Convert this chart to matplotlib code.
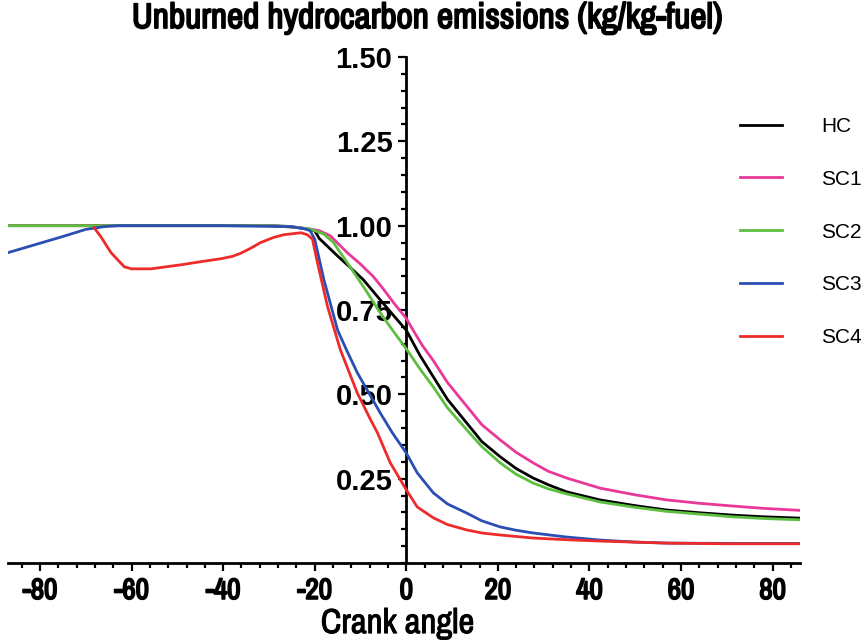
import matplotlib
matplotlib.use("Agg")
import matplotlib.pyplot as plt
import matplotlib.patheffects as pe
from matplotlib.ticker import MultipleLocator, FixedLocator

plt.rcParams["axes.unicode_minus"] = False

# --- data ---
hc_x = [-87, -40, -30, -26, -23, -21, -20, -19, -15, -12, -9.4, -6, -3.5, 0, 3, 5.9, 9,
        13.2, 16.5, 20.5, 24, 27.7, 31, 35, 42.3, 50, 56.9, 64, 71.2, 78, 86]
hc_y = [1.0, 1.0, 1.0, 0.998, 0.993, 0.988, 0.985, 0.962, 0.91, 0.873, 0.84, 0.785, 0.745,
        0.69, 0.615, 0.552, 0.485, 0.415, 0.36, 0.315, 0.28, 0.252, 0.232, 0.211, 0.187,
        0.17, 0.157, 0.149, 0.142, 0.137, 0.133]

sc1_x = [-87, -30, -24, -21, -19, -16.6, -12.9, -10, -7.2, -5, -2.8, 0, 1.5, 3.5, 5.9, 9,
         13.2, 16.5, 20.5, 24, 27.7, 31, 35, 42.3, 50, 56.9, 64, 71.2, 78, 86]
sc1_y = [1.0, 1.0, 0.995, 0.99, 0.985, 0.97, 0.92, 0.886, 0.849, 0.812, 0.772, 0.725, 0.69,
         0.645, 0.60, 0.535, 0.465, 0.41, 0.365, 0.328, 0.297, 0.272, 0.252, 0.222, 0.202,
         0.187, 0.177, 0.169, 0.162, 0.156]

sc2_x = [-87, -30, -24, -21, -18, -15.9, -12.9, -9.4, -5.7, -3, 0, 3, 5.9, 9, 13.2, 16.5,
         20.5, 24, 27.7, 31, 35, 42.3, 50, 56.9, 64, 71.2, 78, 86]
sc2_y = [1.0, 1.0, 0.995, 0.99, 0.975, 0.95, 0.89, 0.82, 0.742, 0.69, 0.635, 0.575, 0.522,
         0.46, 0.395, 0.345, 0.297, 0.263, 0.237, 0.22, 0.205, 0.181, 0.165, 0.153, 0.145,
         0.137, 0.132, 0.128]

sc3_x = [-87, -80, -75, -70, -66, -63, -40, -25, -22, -21, -20, -18, -15, -13, -10.7, -8,
         -5.7, -3, 0, 2.4, 5.9, 9, 13.2, 16.5, 20.5, 24, 27.7, 35, 42.3, 50, 56.9, 70, 86]
sc3_y = [0.92, 0.948, 0.968, 0.989, 0.997, 1.0, 1.0, 0.997, 0.99, 0.985, 0.96, 0.84, 0.69,
         0.63, 0.564, 0.5, 0.445, 0.385, 0.326, 0.267, 0.208, 0.175, 0.148, 0.125, 0.107,
         0.097, 0.089, 0.077, 0.068, 0.062, 0.059, 0.058, 0.058]

sc4_x = [-68.2, -66.7, -64.5, -61.6, -60, -55.8, -49.2, -45, -42, -40.5, -38, -36.2, -34,
         -31.8, -29, -26.8, -23, -21.6, -20.5, -19.4, -17.2, -14.4, -10.7, -8, -6.3, -3.5,
         0, 2.4, 5.9, 9, 13.2, 16.5, 20.5, 27.7, 35, 42.3, 56.9, 70, 86]
sc4_y = [0.994, 0.967, 0.92, 0.878, 0.872, 0.872, 0.884, 0.893, 0.899, 0.902, 0.909, 0.918,
         0.933, 0.95, 0.965, 0.973, 0.979, 0.973, 0.96, 0.89, 0.76, 0.632, 0.504, 0.43,
         0.386, 0.297, 0.217, 0.166, 0.134, 0.114, 0.098, 0.089, 0.083, 0.074, 0.069,
         0.065, 0.059, 0.057, 0.057]

labels = ["HC", "SC1", "SC2", "SC3", "SC4"]
colors = ["#000000", "#e8399b", "#5dbf3f", "#2b4eb2", "#ee2b2b"]

narrow = ["Archivo Narrow", "Liberation Sans", "DejaVu Sans"]
arial = ["Liberation Sans", "DejaVu Sans"]

# Archivo Narrow only ships a regular weight, a thin stroke thickens it
heavy = [pe.withStroke(linewidth=1.3, foreground="black")]
medium = [pe.withStroke(linewidth=0.7, foreground="black")]

fig = plt.figure(figsize=(8.68, 6.43), dpi=100)
ax = fig.add_axes([8 / 868, 80 / 643, 792 / 868, 506 / 643])

series = [(hc_x, hc_y), (sc1_x, sc1_y), (sc2_x, sc2_y), (sc3_x, sc3_y), (sc4_x, sc4_y)]
for (xs, ys), lab, col in zip(series, labels, colors):
    ax.plot(xs, ys, color=col, lw=2.0, label=lab, zorder=3)

ax.set_xlim(-87, 86)
ax.set_ylim(0, 1.5)

# axes crossing at x = 0
ax.spines["left"].set_position(("data", 0))
ax.spines["top"].set_visible(False)
ax.spines["right"].set_visible(False)
for s in ("left", "bottom"):
    ax.spines[s].set_linewidth(2.0)

ax.xaxis.set_major_locator(FixedLocator([-80, -60, -40, -20, 0, 20, 40, 60, 80]))
ax.xaxis.set_minor_locator(MultipleLocator(4))
ax.yaxis.set_major_locator(FixedLocator([0.25, 0.5, 0.75, 1.0, 1.25, 1.5]))
ax.yaxis.set_minor_locator(MultipleLocator(0.05))
ax.tick_params(which="major", direction="out", length=6, width=1.6)
ax.tick_params(which="minor", direction="out", length=3.5, width=1.6)
ax.tick_params(axis="x", pad=4)
ax.tick_params(axis="y", pad=4)

xt = ax.set_xticklabels(["-80", "-60", "-40", "-20", "0", "20", "40", "60", "80"],
                        fontfamily=narrow, fontsize=21)
for t in xt:
    t.set_path_effects(heavy)
ax.set_yticklabels(["0.25", "0.50", "0.75", "1.00", "1.25", "1.50"],
                   fontfamily=arial, fontweight="bold", fontsize=21)

fig.text(0.492, 0.972, "Unburned hydrocarbon emissions (kg/kg-fuel)",
         ha="center", va="center", fontsize=25.5, family=narrow, path_effects=heavy)
fig.text(0.458, 0.031, "Crank angle", ha="center", va="center",
         fontsize=25, family=narrow, path_effects=medium)

fig.legend(loc="upper left", bbox_to_anchor=(740 / 868, 1 - 117 / 643),
           frameon=False, borderpad=0, borderaxespad=0, handlelength=2.0,
           handletextpad=1.9, labelspacing=1.62,
           prop={"family": arial, "size": 15})

fig.savefig("out.png", dpi=100)
